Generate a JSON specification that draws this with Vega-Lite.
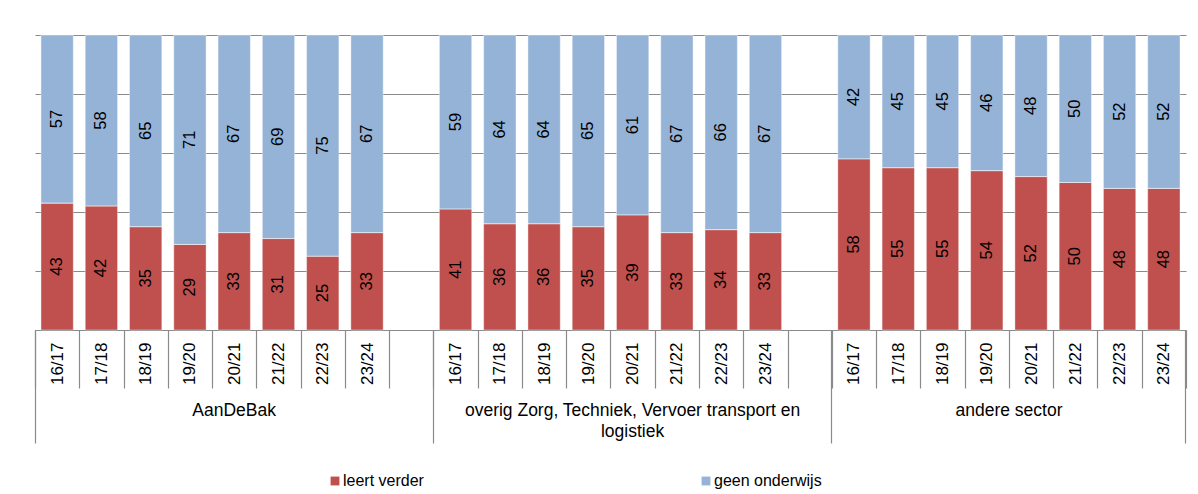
{
  "$schema": "https://vega.github.io/schema/vega-lite/v6.json",
  "width": 1151,
  "height": 295,
  "autosize": {"type": "none"},
  "padding": {"left": 35, "top": 35, "right": 12, "bottom": 164},
  "config": {
    "font": "Liberation Sans",
    "view": {"stroke": null},
    "axisY": {"labels": false, "ticks": false, "domain": false, "grid": true, "gridColor": "#8a8a8a", "gridWidth": 1.2}
  },
  "data": {"values": [
    {"group": "AanDeBak", "year": "16/17", "status": "leert verder", "value": 43},
    {"group": "AanDeBak", "year": "17/18", "status": "leert verder", "value": 42},
    {"group": "AanDeBak", "year": "18/19", "status": "leert verder", "value": 35},
    {"group": "AanDeBak", "year": "19/20", "status": "leert verder", "value": 29},
    {"group": "AanDeBak", "year": "20/21", "status": "leert verder", "value": 33},
    {"group": "AanDeBak", "year": "21/22", "status": "leert verder", "value": 31},
    {"group": "AanDeBak", "year": "22/23", "status": "leert verder", "value": 25},
    {"group": "AanDeBak", "year": "23/24", "status": "leert verder", "value": 33},
    {"group": "AanDeBak", "year": "16/17", "status": "geen onderwijs", "value": 57},
    {"group": "AanDeBak", "year": "17/18", "status": "geen onderwijs", "value": 58},
    {"group": "AanDeBak", "year": "18/19", "status": "geen onderwijs", "value": 65},
    {"group": "AanDeBak", "year": "19/20", "status": "geen onderwijs", "value": 71},
    {"group": "AanDeBak", "year": "20/21", "status": "geen onderwijs", "value": 67},
    {"group": "AanDeBak", "year": "21/22", "status": "geen onderwijs", "value": 69},
    {"group": "AanDeBak", "year": "22/23", "status": "geen onderwijs", "value": 75},
    {"group": "AanDeBak", "year": "23/24", "status": "geen onderwijs", "value": 67},
    {"group": "overig Zorg, Techniek, Vervoer transport en logistiek", "year": "16/17", "status": "leert verder", "value": 41},
    {"group": "overig Zorg, Techniek, Vervoer transport en logistiek", "year": "17/18", "status": "leert verder", "value": 36},
    {"group": "overig Zorg, Techniek, Vervoer transport en logistiek", "year": "18/19", "status": "leert verder", "value": 36},
    {"group": "overig Zorg, Techniek, Vervoer transport en logistiek", "year": "19/20", "status": "leert verder", "value": 35},
    {"group": "overig Zorg, Techniek, Vervoer transport en logistiek", "year": "20/21", "status": "leert verder", "value": 39},
    {"group": "overig Zorg, Techniek, Vervoer transport en logistiek", "year": "21/22", "status": "leert verder", "value": 33},
    {"group": "overig Zorg, Techniek, Vervoer transport en logistiek", "year": "22/23", "status": "leert verder", "value": 34},
    {"group": "overig Zorg, Techniek, Vervoer transport en logistiek", "year": "23/24", "status": "leert verder", "value": 33},
    {"group": "overig Zorg, Techniek, Vervoer transport en logistiek", "year": "16/17", "status": "geen onderwijs", "value": 59},
    {"group": "overig Zorg, Techniek, Vervoer transport en logistiek", "year": "17/18", "status": "geen onderwijs", "value": 64},
    {"group": "overig Zorg, Techniek, Vervoer transport en logistiek", "year": "18/19", "status": "geen onderwijs", "value": 64},
    {"group": "overig Zorg, Techniek, Vervoer transport en logistiek", "year": "19/20", "status": "geen onderwijs", "value": 65},
    {"group": "overig Zorg, Techniek, Vervoer transport en logistiek", "year": "20/21", "status": "geen onderwijs", "value": 61},
    {"group": "overig Zorg, Techniek, Vervoer transport en logistiek", "year": "21/22", "status": "geen onderwijs", "value": 67},
    {"group": "overig Zorg, Techniek, Vervoer transport en logistiek", "year": "22/23", "status": "geen onderwijs", "value": 66},
    {"group": "overig Zorg, Techniek, Vervoer transport en logistiek", "year": "23/24", "status": "geen onderwijs", "value": 67},
    {"group": "andere sector", "year": "16/17", "status": "leert verder", "value": 58},
    {"group": "andere sector", "year": "17/18", "status": "leert verder", "value": 55},
    {"group": "andere sector", "year": "18/19", "status": "leert verder", "value": 55},
    {"group": "andere sector", "year": "19/20", "status": "leert verder", "value": 54},
    {"group": "andere sector", "year": "20/21", "status": "leert verder", "value": 52},
    {"group": "andere sector", "year": "21/22", "status": "leert verder", "value": 50},
    {"group": "andere sector", "year": "22/23", "status": "leert verder", "value": 48},
    {"group": "andere sector", "year": "23/24", "status": "leert verder", "value": 48},
    {"group": "andere sector", "year": "16/17", "status": "geen onderwijs", "value": 42},
    {"group": "andere sector", "year": "17/18", "status": "geen onderwijs", "value": 45},
    {"group": "andere sector", "year": "18/19", "status": "geen onderwijs", "value": 45},
    {"group": "andere sector", "year": "19/20", "status": "geen onderwijs", "value": 46},
    {"group": "andere sector", "year": "20/21", "status": "geen onderwijs", "value": 48},
    {"group": "andere sector", "year": "21/22", "status": "geen onderwijs", "value": 50},
    {"group": "andere sector", "year": "22/23", "status": "geen onderwijs", "value": 52},
    {"group": "andere sector", "year": "23/24", "status": "geen onderwijs", "value": 52}
  ]},
  "transform": [
    {"calculate": "datum.group + '|' + datum.year", "as": "slot"},
    {"calculate": "datum.status == 'leert verder' ? 0 : 1", "as": "ord"}
  ],
  "resolve": {"axis": {"x": "independent"}},
  "layer": [
    {
      "mark": {"type": "bar", "width": {"band": 0.73}},
      "encoding": {
        "x": {
          "field": "slot", "type": "nominal", "sort": null,
          "scale": {"domain": [
            "AanDeBak|16/17", "AanDeBak|17/18", "AanDeBak|18/19", "AanDeBak|19/20", "AanDeBak|20/21", "AanDeBak|21/22", "AanDeBak|22/23", "AanDeBak|23/24", "AanDeBak|",
            "overig Zorg, Techniek, Vervoer transport en logistiek|16/17", "overig Zorg, Techniek, Vervoer transport en logistiek|17/18", "overig Zorg, Techniek, Vervoer transport en logistiek|18/19", "overig Zorg, Techniek, Vervoer transport en logistiek|19/20", "overig Zorg, Techniek, Vervoer transport en logistiek|20/21", "overig Zorg, Techniek, Vervoer transport en logistiek|21/22", "overig Zorg, Techniek, Vervoer transport en logistiek|22/23", "overig Zorg, Techniek, Vervoer transport en logistiek|23/24", "overig Zorg, Techniek, Vervoer transport en logistiek|",
            "andere sector|16/17", "andere sector|17/18", "andere sector|18/19", "andere sector|19/20", "andere sector|20/21", "andere sector|21/22", "andere sector|22/23", "andere sector|23/24"
          ], "paddingInner": 0, "paddingOuter": 0},
          "axis": {
            "orient": "bottom", "title": null, "tickBand": "extent",
            "labelAngle": 270, "labelAlign": "right", "labelBaseline": "middle",
            "labelExpr": "isString(datum.value) ? split(datum.value, '|')[1] : ''",
            "labelFontSize": 17, "labelColor": "#000000", "labelOverlap": false,
            "tickColor": "#8a8a8a", "domainColor": "#8a8a8a", "tickWidth": 1.2, "domainWidth": 1.2,
            "tickSize": 58, "labelPadding": -46
          }
        },
        "y": {"field": "value", "type": "quantitative", "stack": "zero", "title": null, "scale": {"domain": [0, 100]}, "axis": {"values": [0, 20, 40, 60, 80, 100]}},
        "color": {
          "field": "status", "type": "nominal",
          "scale": {"domain": ["leert verder", "geen onderwijs"], "range": ["#C0504D", "#95B3D7"]},
          "legend": {"orient": "none", "legendX": 292, "legendY": 438, "direction": "horizontal", "title": null, "symbolType": "square", "symbolSize": 78, "symbolStrokeWidth": 0, "labelFontSize": 16, "labelColor": "#000000", "columnPadding": 274, "labelOffset": 0}
        },
        "order": {"field": "ord", "type": "quantitative"}
      }
    },
    {
      "mark": {"type": "text", "angle": 270, "align": "center", "baseline": "middle", "fontSize": 16.5, "color": "#000000"},
      "encoding": {
        "x": {
          "field": "slot", "type": "nominal", "sort": null,
          "axis": {
            "orient": "bottom", "title": null, "domain": false, "grid": false, "bandPosition": 0,
            "tickSize": 113, "tickColor": "#8a8a8a", "tickWidth": 1.2,
            "values": ["AanDeBak|16/17", "overig Zorg, Techniek, Vervoer transport en logistiek|16/17", "andere sector|16/17"],
            "labelAngle": 0, "labelAlign": "center", "labelBaseline": "top", "labelPadding": -42,
            "labelExpr": "!isString(datum.value) ? '' : indexof(datum.value, 'overig') == 0 ? ['overig Zorg, Techniek, Vervoer transport en', 'logistiek'] : split(datum.value, '|')[0]",
            "labelOffset": {"condition": {"test": "isString(datum.value) && indexof(datum.value, 'andere') == 0", "value": 155}, "value": 177},
            "labelFontSize": 17.5, "labelLineHeight": 21, "labelLimit": 1000, "labelColor": "#000000", "labelOverlap": false
          }
        },
        "y": {"field": "value", "type": "quantitative", "stack": "zero", "bandPosition": 0.5, "title": null},
        "detail": {"field": "status"},
        "order": {"field": "ord", "type": "quantitative"},
        "text": {"field": "value", "type": "quantitative"}
      }
    },
    {
      "mark": {"type": "bar", "width": {"band": 0.73}, "filled": false, "stroke": "#ffffff", "strokeWidth": 0.8, "strokeOpacity": 0.5},
      "encoding": {
        "x": {
          "field": "slot", "type": "nominal", "sort": null,
          "axis": {
            "orient": "bottom", "title": null, "domain": false, "grid": false, "labels": false, "bandPosition": 1,
            "tickSize": 113, "tickColor": "#8a8a8a", "tickWidth": 1.2,
            "values": ["andere sector|23/24"]
          }
        },
        "y": {"field": "value", "type": "quantitative", "stack": "zero", "title": null},
        "detail": {"field": "status"},
        "order": {"field": "ord", "type": "quantitative"}
      }
    }
  ]
}
